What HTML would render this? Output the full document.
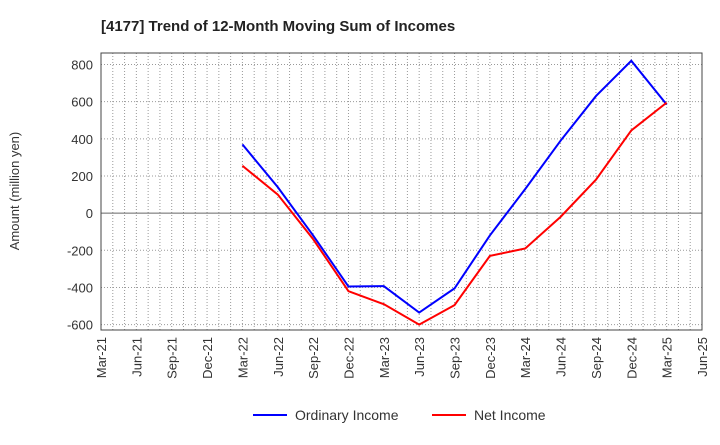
<!DOCTYPE html>
<html><head><meta charset="utf-8"><style>
body{margin:0;background:#fff;font-family:"Liberation Sans",sans-serif}
</style></head><body>
<svg id="c" width="720" height="440" xmlns="http://www.w3.org/2000/svg">
<text x="101" y="31" font-size="15" font-weight="bold" fill="#222">[4177]  Trend of 12-Month Moving Sum of Incomes</text>
<text transform="translate(19,191) rotate(-90)" text-anchor="middle" font-size="13" fill="#333">Amount (million yen)</text>
<g id="grid"></g><g id="axes"></g><g id="series"></g>
<g>
<line x1="253" y1="415" x2="287" y2="415" stroke="#0000ff" stroke-width="2"/>
<text x="295" y="420" font-size="14" fill="#333">Ordinary Income</text>
<line x1="432" y1="415" x2="466" y2="415" stroke="#ff0000" stroke-width="2"/>
<text x="474" y="420" font-size="14" fill="#333">Net Income</text>
</g>
</svg>
<script>
const categories=["Mar-21","Jun-21","Sep-21","Dec-21","Mar-22","Jun-22","Sep-22","Dec-22","Mar-23","Jun-23","Sep-23","Dec-23","Mar-24","Jun-24","Sep-24","Dec-24","Mar-25","Jun-25"];
const ordinaryIncome=[null,null,null,null,370,140,-120,-395,-393,-535,-405,-120,130,390,630,820,585,null];
const netIncome=[null,null,null,null,255,100,-140,-420,-490,-600,-495,-230,-190,-20,180,445,595,null];
const yTicks=[-600,-400,-200,0,200,400,600,800];
const NS="http://www.w3.org/2000/svg";
const L=101,R=702,T=53,B=330,yMin=-629,yMax=862;
const x=i=>L+i*(R-L)/(categories.length-1);
const y=v=>B-(v-yMin)/(yMax-yMin)*(B-T);
function mk(tag,attrs,parent){const e=document.createElementNS(NS,tag);for(const k in attrs)e.setAttribute(k,attrs[k]);parent.appendChild(e);return e;}
const grid=document.getElementById('grid'),axes=document.getElementById('axes'),ser=document.getElementById('series');
for(let m=1;m<(categories.length-1)*3;m++){const xx=L+m*(R-L)/((categories.length-1)*3);
const g=mk('line',{x1:xx,y1:T,x2:xx,y2:B,stroke:'#999','stroke-width':1,'stroke-dasharray':'1,2'},grid);

}
yTicks.forEach(v=>{const yy=y(v);
const g=mk('line',{x1:L,y1:yy,x2:R,y2:yy,stroke:v===0?'#666':'#999','stroke-width':1,'stroke-dasharray':v===0?'':'1,2'},grid);


const t=mk('text',{x:L-8,y:yy+5,'text-anchor':'end','font-size':13,fill:'#333'},axes);t.textContent=v;

});
categories.forEach((c,i)=>{const xx=x(i);
const t=mk('text',{transform:`translate(${xx+5},337) rotate(-90)`,'text-anchor':'end','font-size':13,fill:'#333'},axes);t.textContent=c;

});
const fr=mk('rect',{x:L,y:T,width:R-L,height:B-T,fill:'none',stroke:'#444','stroke-width':1},axes);


function line(data,color,name){const pts=[];data.forEach((v,i)=>{if(v!==null)pts.push(x(i)+','+y(v));});
const p=mk('polyline',{points:pts.join(' '),fill:'none',stroke:color,'stroke-width':2,'stroke-linejoin':'miter'},ser);

}
line(ordinaryIncome,'#0000ff','ordinary-income-line');
line(netIncome,'#ff0000','net-income-line');
</script>
</body></html>
